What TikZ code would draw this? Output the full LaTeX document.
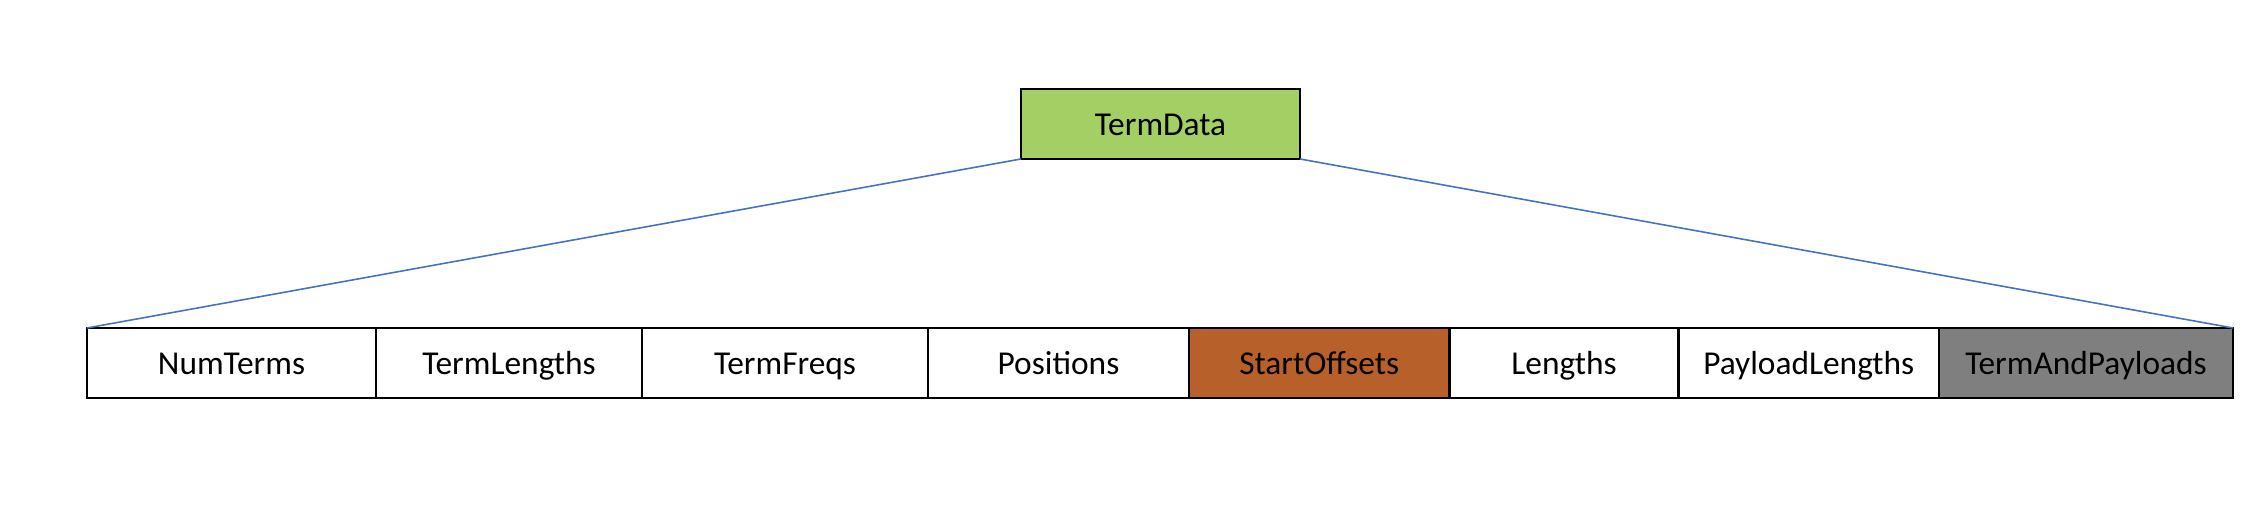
\documentclass[tikz,border=0pt]{standalone}
\usepackage{fontspec}
\setmainfont{Carlito}
\definecolor{tdgreen}{HTML}{A4CF64}
\definecolor{sobrown}{HTML}{B8602A}
\definecolor{tpgray}{HTML}{7F7F7F}
\definecolor{linkblue}{HTML}{4472C4}
\tikzset{
    cell/.style = {draw=black, line width=0.8pt, minimum height=0.7cm, inner sep=0pt, outer sep=0pt, text height=7.4pt, text depth=0.8pt, font={\fontsize{9.5}{11}\selectfont}},
    link/.style = {draw=linkblue, line width=0.45pt}
}

\begin{document}
\begin{tikzpicture}
            \useasboundingbox (0, 0) rectangle (22.66, 5.32);
            \node[cell, fill=tdgreen, minimum width=2.79cm] (termdata) at (11.605, 4.08) {TermData};

            \node[cell, minimum width=2.89cm] (numterms) at (2.315, 1.69) {NumTerms};
            \node[cell, minimum width=2.66cm] (termlengths) at (5.09, 1.69) {TermLengths};
            \node[cell, minimum width=2.86cm] (termfreqs) at (7.85, 1.69) {TermFreqs};
            \node[cell, minimum width=2.61cm] (positions) at (10.585, 1.69) {Positions};
            \node[cell, fill=sobrown, minimum width=2.605cm] (startoffsets) at (13.1925, 1.69) {StartOffsets};
            \node[cell, minimum width=2.29cm] (lengths) at (15.64, 1.69) {Lengths};
            \node[cell, minimum width=2.605cm] (payloadlengths) at (18.0875, 1.69) {PayloadLengths};
            \node[cell, fill=tpgray, minimum width=2.94cm] (termandpayloads) at (20.86, 1.69) {TermAndPayloads};

            \draw[link] (termdata.south west) -- (numterms.north west);
            \draw[link] (termdata.south east) -- (termandpayloads.north east);
        \end{tikzpicture}
\end{document}
